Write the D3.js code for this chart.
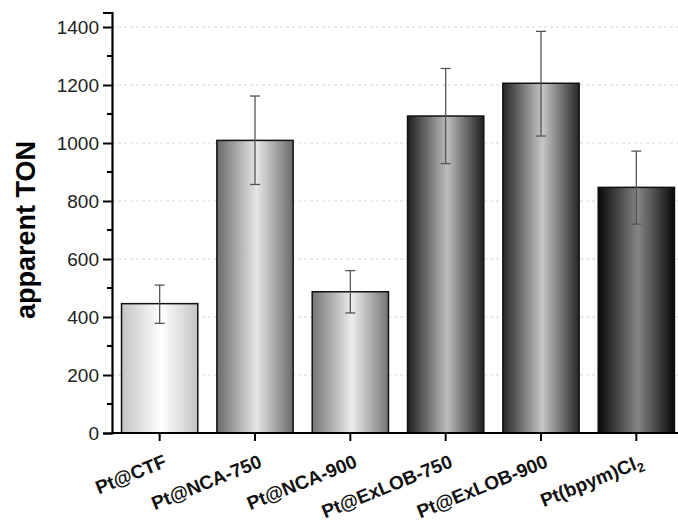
<!DOCTYPE html>
<html><head><meta charset="utf-8">
<script src="https://cdn.jsdelivr.net/npm/d3@7"></script>
<style>html,body{margin:0;padding:0;background:#fff;}svg{display:block;}</style>
</head><body>
<svg id="chart" width="678" height="523"></svg>
<script>
const categories = ["Pt@CTF","Pt@NCA-750","Pt@NCA-900","Pt@ExLOB-750","Pt@ExLOB-900","Pt(bpym)Cl2"];
const values = [446, 1009, 487, 1093, 1206, 847];
const errLow = [378, 857, 414, 929, 1024, 720];
const errHigh = [510, 1162, 560, 1257, 1385, 972];
const yTicks = [0, 200, 400, 600, 800, 1000, 1200, 1400];
const yMinorTicks = [100, 300, 500, 700, 900, 1100, 1300];
const edgeColors = ["#c4c4c4","#6a6a6a","#747474","#1e1e1e","#262626","#080808"];
const centerColors = ["#ffffff","#e6e6e6","#ececec","#bdbdbd","#c6c6c6","#858585"];

const svg = d3.select("#chart");
const W = 678;
const x = d3.scaleBand().domain(categories).range([112, 684]).paddingInner(0.2).paddingOuter(0.1);
const y = d3.scaleLinear().domain([0, 1450]).range([433, 12.5]);

const defs = svg.append("defs");
categories.forEach((c, i) => {
  const g = defs.append("linearGradient").attr("id", "g" + i).attr("x1", "0%").attr("x2", "100%").attr("y1", "0%").attr("y2", "0%");
  g.append("stop").attr("offset", "0%").attr("stop-color", edgeColors[i]);
  g.append("stop").attr("offset", "52%").attr("stop-color", centerColors[i]);
  g.append("stop").attr("offset", "100%").attr("stop-color", edgeColors[i]);
});

// gridlines
svg.append("g").selectAll("line").data(yTicks.filter(d => d > 0)).join("line")
  .attr("x1", 112).attr("x2", W).attr("y1", d => y(d)).attr("y2", d => y(d))
  .attr("stroke", "#d4d4d4").attr("stroke-width", 1).attr("stroke-dasharray", "3,3");

// bars
svg.append("g").selectAll("rect").data(categories).join("rect")
  .attr("x", d => x(d)).attr("width", x.bandwidth())
  .attr("y", (d, i) => y(values[i])).attr("height", (d, i) => y(0) - y(values[i]))
  .attr("fill", (d, i) => "url(#g" + i + ")")
  .attr("stroke", "#111").attr("stroke-width", 1.5);

// error bars
const eb = svg.append("g").attr("stroke", "#555").attr("stroke-width", 1.3);
categories.forEach((c, i) => {
  const cx = x(c) + x.bandwidth() / 2;
  eb.append("line").attr("x1", cx).attr("x2", cx).attr("y1", y(errLow[i])).attr("y2", y(errHigh[i]));
  eb.append("line").attr("x1", cx - 5).attr("x2", cx + 5).attr("y1", y(errLow[i])).attr("y2", y(errLow[i]));
  eb.append("line").attr("x1", cx - 5).attr("x2", cx + 5).attr("y1", y(errHigh[i])).attr("y2", y(errHigh[i]));
});

// y axis
const yAxis = svg.append("g").attr("transform", "translate(112,0)")
  .call(d3.axisLeft(y).tickValues(yTicks).tickFormat(d3.format("d")).tickSize(9).tickPadding(4));
yAxis.select(".domain").attr("stroke", "#000").attr("stroke-width", 2.2);
yAxis.selectAll(".tick line").attr("stroke", "#000").attr("stroke-width", 2);
yAxis.selectAll(".tick text").attr("font-family", "Liberation Sans, Arial, sans-serif").attr("font-size", "19px").attr("fill", "#222");
yAxis.append("g").selectAll("line").data(yMinorTicks).join("line")
  .attr("x1", -5).attr("x2", 0).attr("y1", d => y(d)).attr("y2", d => y(d))
  .attr("stroke", "#000").attr("stroke-width", 2);

// x axis
const xAxis = svg.append("g").attr("transform", "translate(0,433)")
  .call(d3.axisBottom(x).tickSize(8).tickFormat(""));
xAxis.select(".domain").remove();
xAxis.selectAll(".tick line").attr("stroke", "#000").attr("stroke-width", 2);
svg.append("line").attr("x1", 111).attr("x2", W).attr("y1", 433).attr("y2", 433)
  .attr("stroke", "#000").attr("stroke-width", 2.2);

// x labels
const lab = svg.append("g").selectAll("text").data(categories).join("text")
  .attr("transform", d => "translate(" + (x(d) + x.bandwidth() / 2 + 3) + ",454) rotate(-22)")
  .attr("text-anchor", "end").attr("dy", "0.71em")
  .attr("font-family", "Liberation Sans, Arial, sans-serif").attr("font-weight", "bold")
  .attr("font-size", "19px").attr("fill", "#111");
lab.each(function(d) {
  const t = d3.select(this);
  if (d === "Pt(bpym)Cl2") {
    t.append("tspan").text("Pt(bpym)Cl");
    t.append("tspan").attr("font-size", "13px").attr("dy", "4").text("2");
  } else {
    t.text(d);
  }
});

// y label
svg.append("text").attr("transform", "translate(35,230) rotate(-90)")
  .attr("text-anchor", "middle")
  .attr("font-family", "Liberation Sans, Arial, sans-serif").attr("font-weight", "bold")
  .attr("font-size", "27px").attr("fill", "#000").text("apparent TON");
</script>
</body></html>
